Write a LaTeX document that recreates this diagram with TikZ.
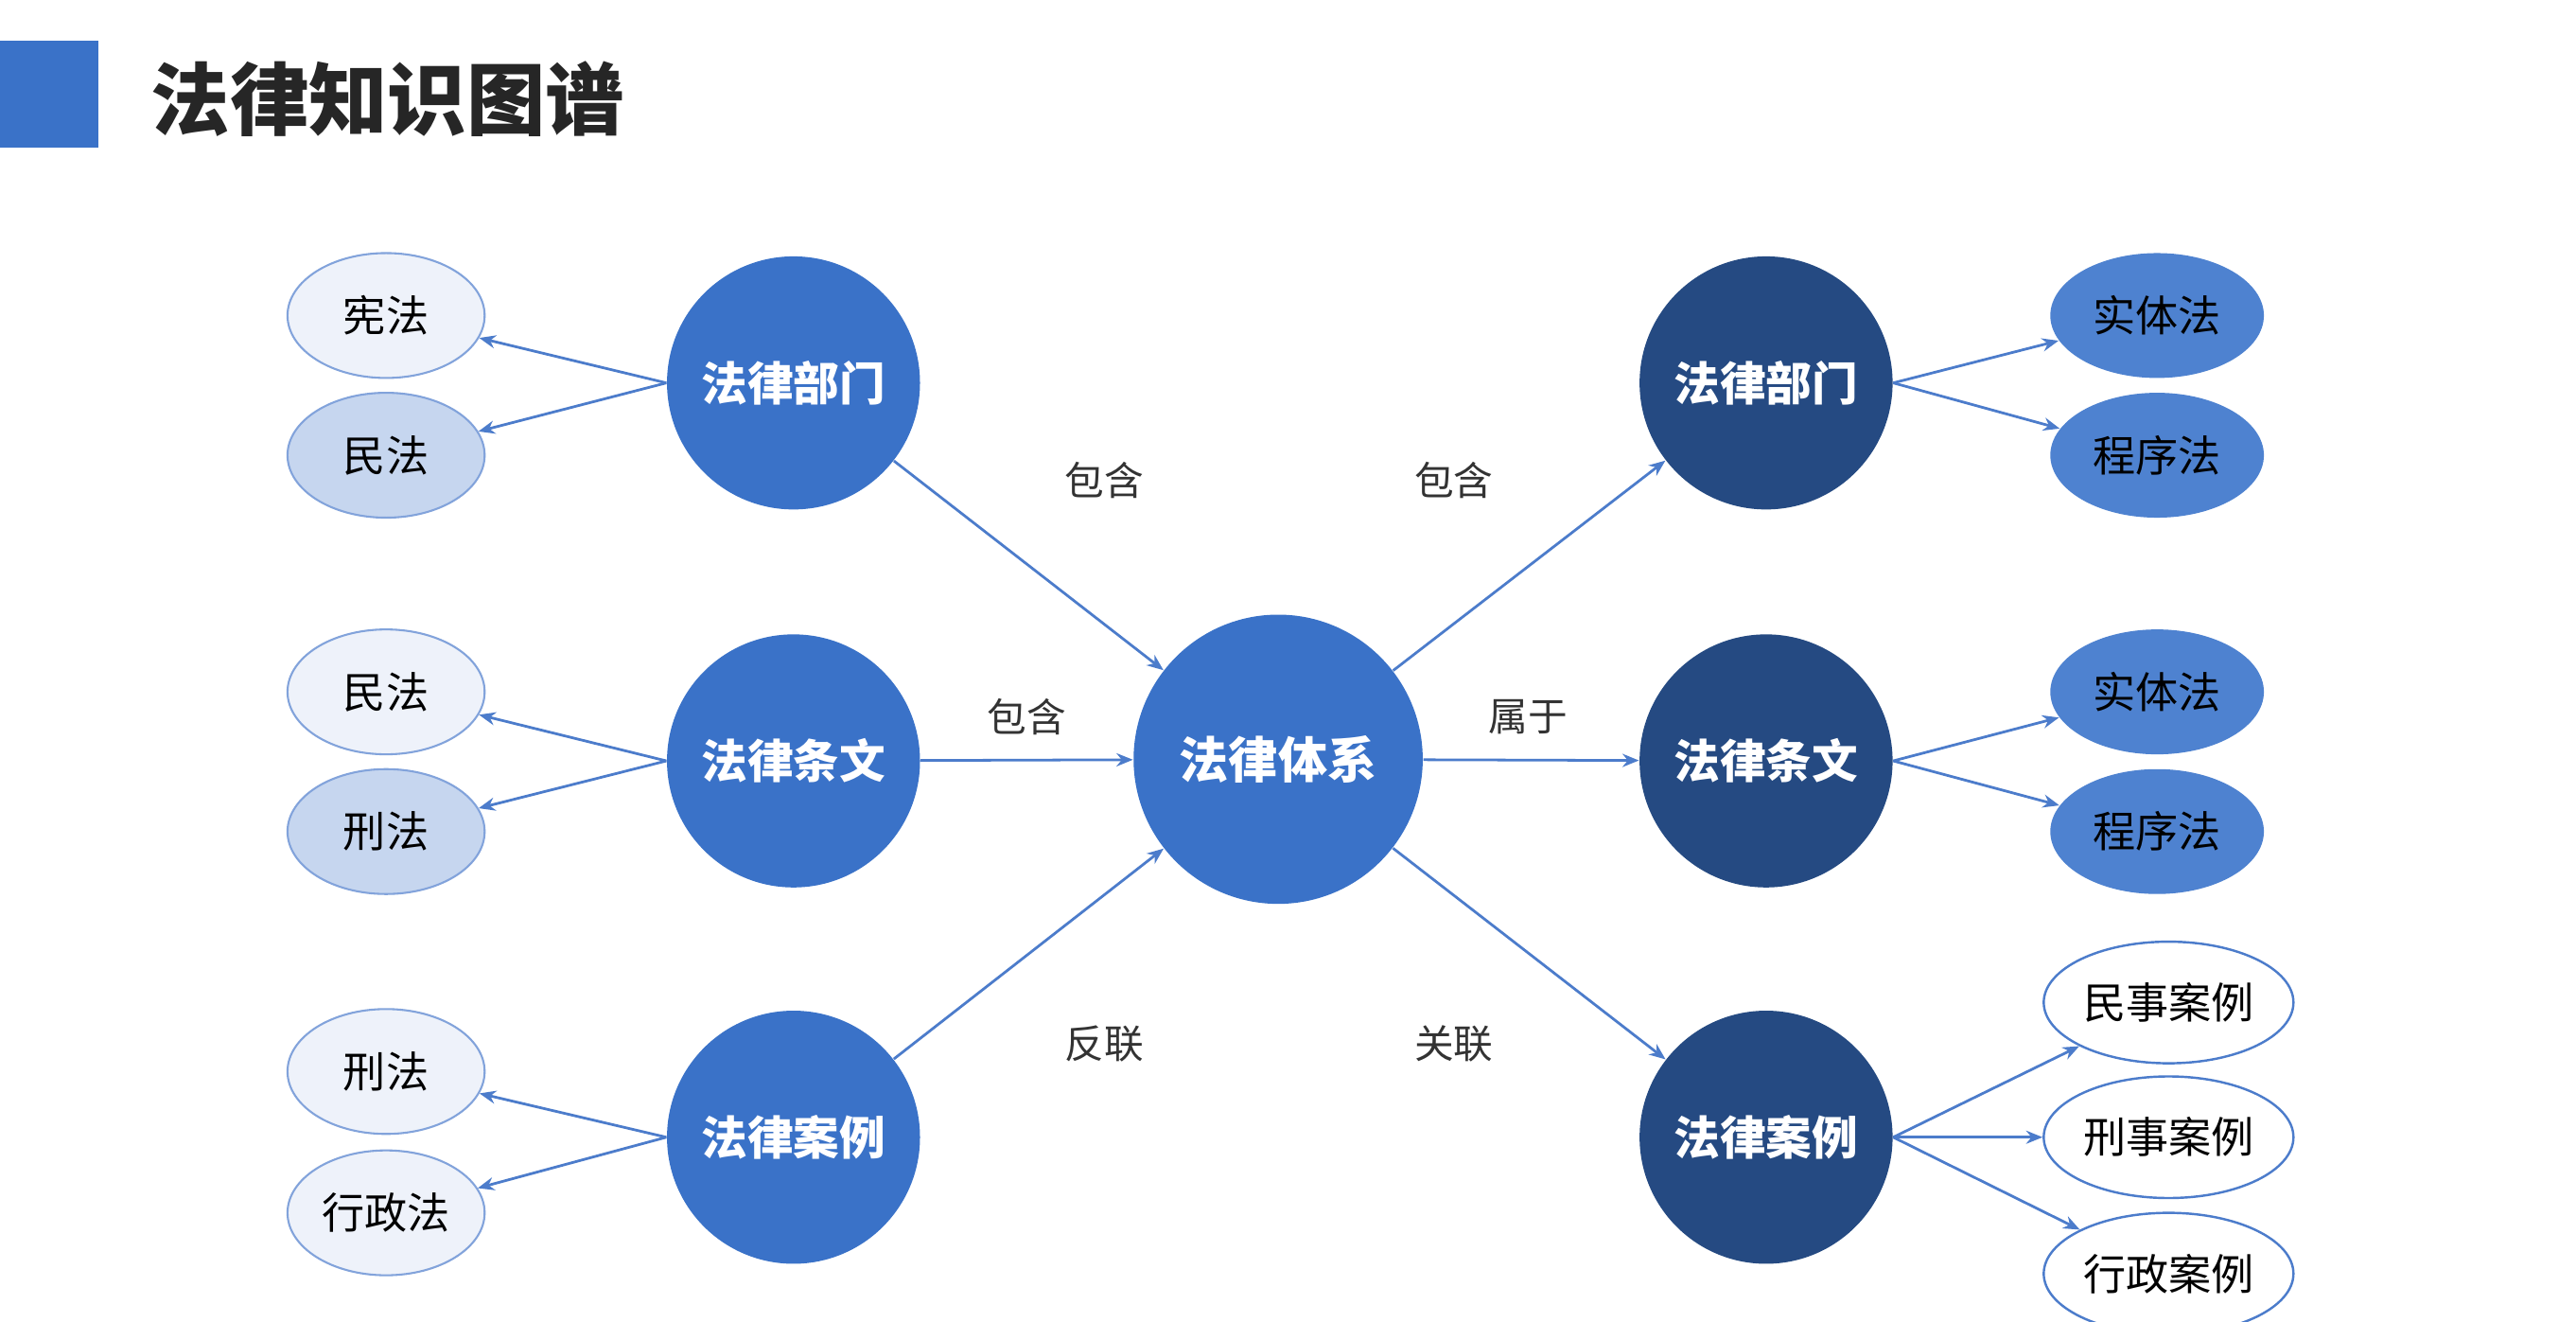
\documentclass[tikz,border=0pt]{standalone}
\usepackage{fontspec}
\newfontfamily\cjk{Noto Sans CJK SC}
\newfontfamily\cjkb{Noto Sans CJK SC}[UprightFont=*-Bold]
\usetikzlibrary{arrows.meta,shapes.geometric}
\definecolor{mid}{HTML}{3A72C8}
\definecolor{navy}{HTML}{254A82}
\definecolor{lite}{HTML}{EEF2FA}
\definecolor{lite2}{HTML}{C6D6EF}
\definecolor{rblue}{HTML}{4E82D0}
\definecolor{edge}{HTML}{4C7CCB}
\begin{document}
\begin{tikzpicture}[x=0.5pt,y=-0.5pt,
 big/.style={circle,fill=mid,minimum size=154*0.5pt,inner sep=0,text=white,font=\cjk\bfseries\fontsize{14}{16}\selectfont},
 dark/.style={circle,fill=navy,minimum size=154*0.5pt,inner sep=0,text=white,font=\cjk\bfseries\fontsize{14}{16}\selectfont},
 lel/.style={ellipse,draw=edge!70,line width=0.6pt,fill=lite,minimum width=120*0.5pt,minimum height=76*0.5pt,inner sep=0,font=\cjk\fontsize{13}{15}\selectfont},
 rel/.style={ellipse,fill=rblue,minimum width=130*0.5pt,minimum height=76*0.5pt,inner sep=0,font=\cjk\fontsize{13}{15}\selectfont},
 wel/.style={ellipse,draw=edge,line width=0.7pt,fill=white,minimum width=152*0.5pt,minimum height=74*0.5pt,inner sep=0,font=\cjk\fontsize{13}{15}\selectfont},
 arr/.style={draw=edge,line width=0.8pt,-{Stealth[length=5pt,width=4pt]}},
 lab/.style={font=\cjk\fontsize{12}{14}\selectfont,text=black!80}]
\useasboundingbox (0,0) rectangle (1568,804);
\fill[white] (0,0) rectangle (1568,804);
\fill[mid] (0,25) rectangle (60,90);
\node[anchor=west,font=\cjk\bfseries\fontsize{24}{28}\selectfont,text=black!85] (title) at (85,60) {法律知识图谱};
\node[big] (c) at (778,462) [minimum size=176*0.5pt,font=\cjk\bfseries\fontsize{15}{17}\selectfont] {法律体系};
\node[big] (l1) at (483,233) {法律部门};
\node[big] (l2) at (483,463) {法律条文};
\node[big] (l3) at (483,692) {法律案例};
\node[dark] (r1) at (1075,233) {法律部门};
\node[dark] (r2) at (1075,463) {法律条文};
\node[dark] (r3) at (1075,692) {法律案例};
\node[lel] (a1) at (235,192) {宪法};
\node[lel,fill=lite2] (a2) at (235,277) {民法};
\node[lel] (a3) at (235,421) {民法};
\node[lel,fill=lite2] (a4) at (235,506) {刑法};
\node[lel] (a5) at (235,652) {刑法};
\node[lel] (a6) at (235,738) {行政法};
\node[rel] (b1) at (1313,192) {实体法};
\node[rel] (b2) at (1313,277) {程序法};
\node[rel] (b3) at (1313,421) {实体法};
\node[rel] (b4) at (1313,506) {程序法};
\node[wel] (w1) at (1320,610) {民事案例};
\node[wel] (w2) at (1320,692) {刑事案例};
\node[wel] (w3) at (1320,775) {行政案例};
\draw[arr] (l1) -- (c); \draw[arr] (l2) -- (c); \draw[arr] (l3) -- (c);
\draw[arr] (c) -- (r1); \draw[arr] (c) -- (r2); \draw[arr] (c) -- (r3);
\draw[arr] (l1.west) -- (a1); \draw[arr] (l1.west) -- (a2);
\draw[arr] (l2.west) -- (a3); \draw[arr] (l2.west) -- (a4);
\draw[arr] (l3.west) -- (a5); \draw[arr] (l3.west) -- (a6);
\draw[arr] (r1.east) -- (b1); \draw[arr] (r1.east) -- (b2);
\draw[arr] (r2.east) -- (b3); \draw[arr] (r2.east) -- (b4);
\draw[arr] (r3.east) -- (w1); \draw[arr] (r3.east) -- (w2); \draw[arr] (r3.east) -- (w3);
\node[lab] (t1) at (672,292) {包含};
\node[lab] (t2) at (885,292) {包含};
\node[lab] (t3) at (625,436) {包含};
\node[lab] (t4) at (930,436) {属于};
\node[lab] (t5) at (672,635) {反联};
\node[lab] (t6) at (885,635) {关联};
\end{tikzpicture}
\end{document}
